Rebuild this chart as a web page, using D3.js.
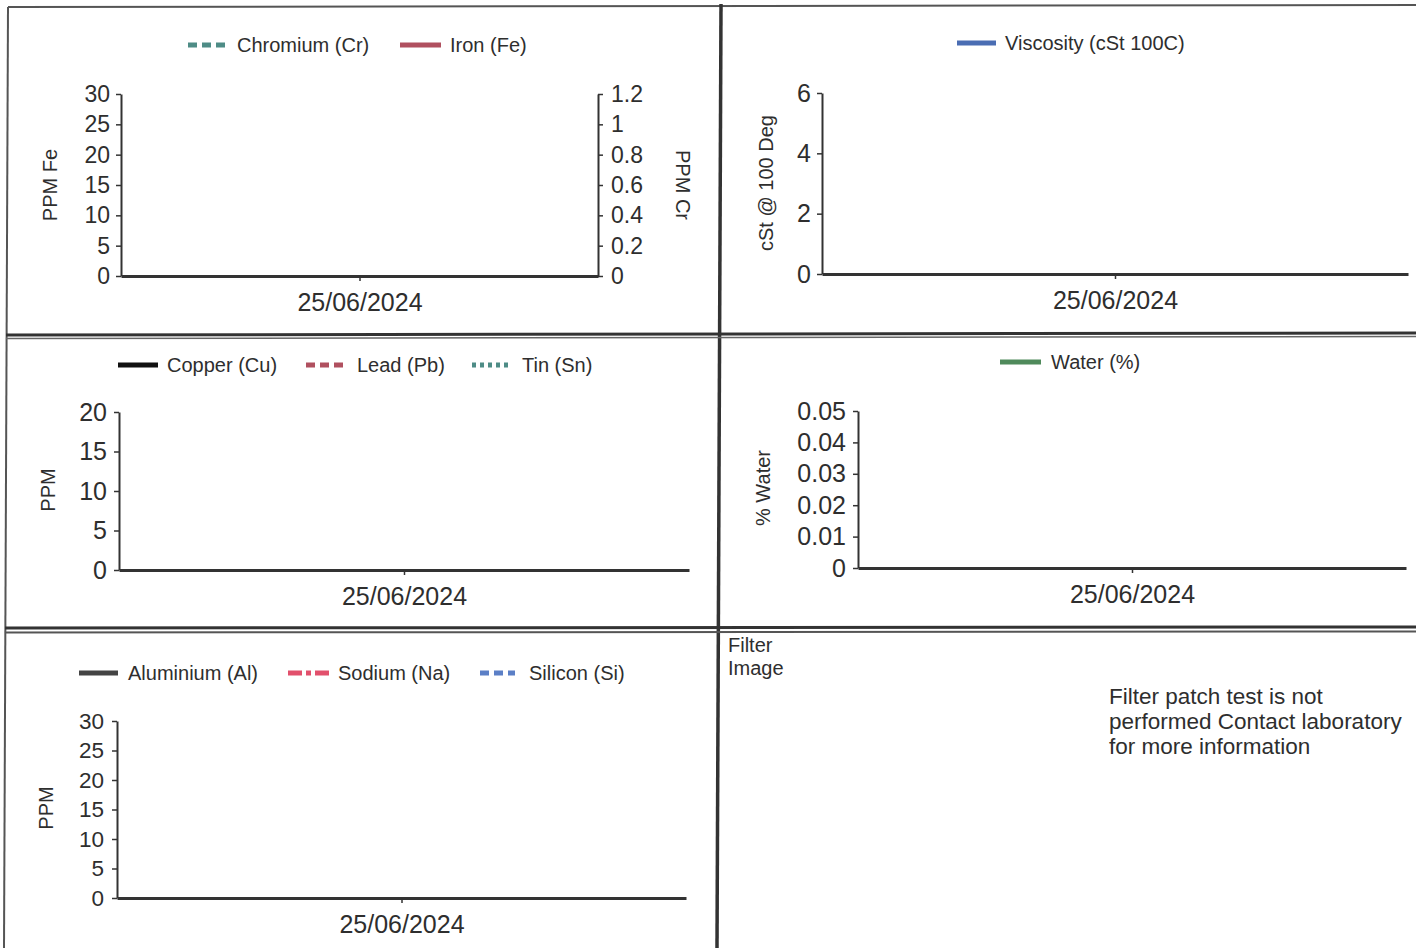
<!DOCTYPE html>
<html><head><meta charset="utf-8">
<script src="https://cdn.jsdelivr.net/npm/d3@7"></script>
<style>html,body{margin:0;padding:0;background:#fff}svg{display:block;font-family:"Liberation Sans",Arial,sans-serif}</style>
</head><body><svg id="c" width="1416" height="948"></svg>
<script>
// ---------- data ----------
const sampleDates = ["25/06/2024"];
const chromiumCr = [null];
const ironFe = [null];
const viscosity100 = [null];
const copperCu = [null];
const leadPb = [null];
const tinSn = [null];
const waterPct = [null];
const aluminiumAl = [null];
const sodiumNa = [null];
const siliconSi = [null];
const feTicks = [0, 5, 10, 15, 20, 25, 30];
const crTicks = [0, 0.2, 0.4, 0.6, 0.8, 1, 1.2];
const viscTicks = [0, 2, 4, 6];
const wearTicks = [0, 5, 10, 15, 20];
const waterTicks = [0, 0.01, 0.02, 0.03, 0.04, 0.05];
const contamTicks = [0, 5, 10, 15, 20, 25, 30];
const filterHeading = ["Filter", "Image"];
const filterNote = ["Filter patch test is not", "performed Contact laboratory", "for more information"];

// ---------- drawing ----------
const svg = d3.select("#c");
const TXT = "#2e2e2e", AX = "#333";

// panel frame lines
const frame = svg.append("g").attr("fill", "none");
frame.append("path").attr("d", "M8,7L1416,5").attr("stroke", "#555").attr("stroke-width", 2);
frame.append("path").attr("d", "M8,7L4,948").attr("stroke", "#555").attr("stroke-width", 2);
frame.append("path").attr("d", "M721,4L717,948").attr("stroke", "#333").attr("stroke-width", 3.5);
frame.append("path").attr("d", "M6,335L1416,333").attr("stroke", "#333").attr("stroke-width", 3);
frame.append("path").attr("d", "M6,338.5L1416,336.5").attr("stroke", "#666").attr("stroke-width", 1.5);
frame.append("path").attr("d", "M5,628L1416,627").attr("stroke", "#333").attr("stroke-width", 3);
frame.append("path").attr("d", "M5,632.5L1416,631.5").attr("stroke", "#555").attr("stroke-width", 2);

const fmt = d3.format("");

function styleAxis(a, fs, domW) {
  a.select(".domain").attr("stroke", AX).attr("stroke-width", domW);
  a.selectAll(".tick line").attr("stroke", AX).attr("stroke-width", 1.5);
  a.selectAll(".tick text").attr("fill", TXT).attr("font-size", fs).attr("font-family", '"Liberation Sans",Arial,sans-serif');
}

function chart(o) {
  const g = svg.append("g");
  const x = d3.scalePoint().domain(sampleDates).range([o.left, o.right]).padding(0.5);
  const y = d3.scaleLinear().domain([0, d3.max(o.ticks)]).range([o.bottom, o.top]);

  const ya = g.append("g").attr("transform", `translate(${o.left},0)`)
    .call(d3.axisLeft(y).tickValues(o.ticks).tickFormat(fmt).tickSize(5).tickSizeOuter(0).tickPadding(o.tpad));
  styleAxis(ya, o.tfs, 2);

  let y2 = null;
  if (o.ticks2) {
    y2 = d3.scaleLinear().domain([0, d3.max(o.ticks2)]).range([o.bottom, o.top]);
    const ya2 = g.append("g").attr("transform", `translate(${o.right},0)`)
      .call(d3.axisRight(y2).tickValues(o.ticks2).tickFormat(fmt).tickSize(5).tickSizeOuter(0).tickPadding(8));
    styleAxis(ya2, o.tfs, 2);
  }

  const xa = g.append("g").attr("transform", `translate(0,${o.bottom})`)
    .call(d3.axisBottom(x).tickSize(5).tickSizeOuter(0).tickPadding(12));
  styleAxis(xa, 25, 3);

  // series lines
  o.series.forEach(s => {
    const sc = s.axis2 ? y2 : y;
    const line = d3.line().defined(d => d != null)
      .x((d, i) => x(sampleDates[i])).y(d => sc(d));
    g.append("path").datum(s.values).attr("fill", "none")
      .attr("stroke", s.color).attr("stroke-width", 3)
      .attr("stroke-dasharray", s.dash || null).attr("d", line);
  });

  // legend
  o.series.forEach((s, i) => {
    const p = o.legend[i];
    g.append("line").attr("x1", p[0]).attr("x2", p[1]).attr("y1", o.legY).attr("y2", o.legY)
      .attr("stroke", s.color).attr("stroke-width", 5).attr("stroke-dasharray", s.dash || null);
    g.append("text").attr("x", p[2]).attr("y", o.legY).attr("dy", "0.35em")
      .attr("font-size", 20).attr("fill", TXT).text(s.name);
  });

  // axis titles
  g.append("text").attr("transform", `translate(${o.ytX},${o.ytY}) rotate(-90)`)
    .attr("text-anchor", "middle").attr("dy", "0.35em").attr("font-size", 20).attr("fill", TXT).text(o.ytitle);
  if (o.ytitle2) {
    g.append("text").attr("transform", `translate(${o.yt2X},${o.ytY}) rotate(90)`)
      .attr("text-anchor", "middle").attr("dy", "0.35em").attr("font-size", 20).attr("fill", TXT).text(o.ytitle2);
  }
}

chart({
  left: 121, right: 598, top: 94, bottom: 276, ticks: feTicks, ticks2: crTicks, tfs: 23, tpad: 6,
  series: [
    { name: "Chromium (Cr)", values: chromiumCr, color: "#4e8c86", dash: "9,5", axis2: true },
    { name: "Iron (Fe)", values: ironFe, color: "#b0505f" }
  ],
  legY: 45, legend: [[188, 225, 237], [400, 441, 450]],
  ytitle: "PPM Fe", ytX: 50, ytY: 185, ytitle2: "PPM Cr", yt2X: 683
});

chart({
  left: 822, right: 1408, top: 93, bottom: 274, ticks: viscTicks, tfs: 25, tpad: 6,
  series: [
    { name: "Viscosity (cSt 100C)", values: viscosity100, color: "#4a6db3" }
  ],
  legY: 43, legend: [[957, 996, 1005]],
  ytitle: "cSt @ 100 Deg", ytX: 766, ytY: 183
});

chart({
  left: 119, right: 689, top: 412, bottom: 570, ticks: wearTicks, tfs: 25, tpad: 7,
  series: [
    { name: "Copper (Cu)", values: copperCu, color: "#111" },
    { name: "Lead (Pb)", values: leadPb, color: "#b0505f", dash: "9,5" },
    { name: "Tin (Sn)", values: tinSn, color: "#4e8c86", dash: "4,4" }
  ],
  legY: 365, legend: [[118, 158, 167], [306, 343, 357], [472, 512, 522]],
  ytitle: "PPM", ytX: 48, ytY: 490
});

chart({
  left: 858, right: 1406, top: 411, bottom: 568, ticks: waterTicks, tfs: 25, tpad: 7,
  series: [
    { name: "Water (%)", values: waterPct, color: "#4f8a5b" }
  ],
  legY: 362, legend: [[1000, 1041, 1051]],
  ytitle: "% Water", ytX: 763, ytY: 488
});

chart({
  left: 117, right: 686, top: 721, bottom: 898, ticks: contamTicks, tfs: 22.5, tpad: 8,
  series: [
    { name: "Aluminium (Al)", values: aluminiumAl, color: "#444" },
    { name: "Sodium (Na)", values: sodiumNa, color: "#e2506c", dash: "14,4,5,4" },
    { name: "Silicon (Si)", values: siliconSi, color: "#5b7fc6", dash: "9,5" }
  ],
  legY: 673, legend: [[79, 118, 128], [288, 330, 338], [480, 515, 529]],
  ytitle: "PPM", ytX: 46, ytY: 808
});

// filter panel text
const fp = svg.append("g").attr("fill", TXT);
fp.selectAll("text.h").data(filterHeading).join("text").attr("class", "h")
  .attr("x", 728).attr("y", (d, i) => 645 + i * 23).attr("dy", "0.35em").attr("font-size", 20).text(d => d);
fp.selectAll("text.n").data(filterNote).join("text").attr("class", "n")
  .attr("x", 1109).attr("y", (d, i) => 696 + i * 25).attr("dy", "0.35em").attr("font-size", 22.5).text(d => d);
</script></body></html>
